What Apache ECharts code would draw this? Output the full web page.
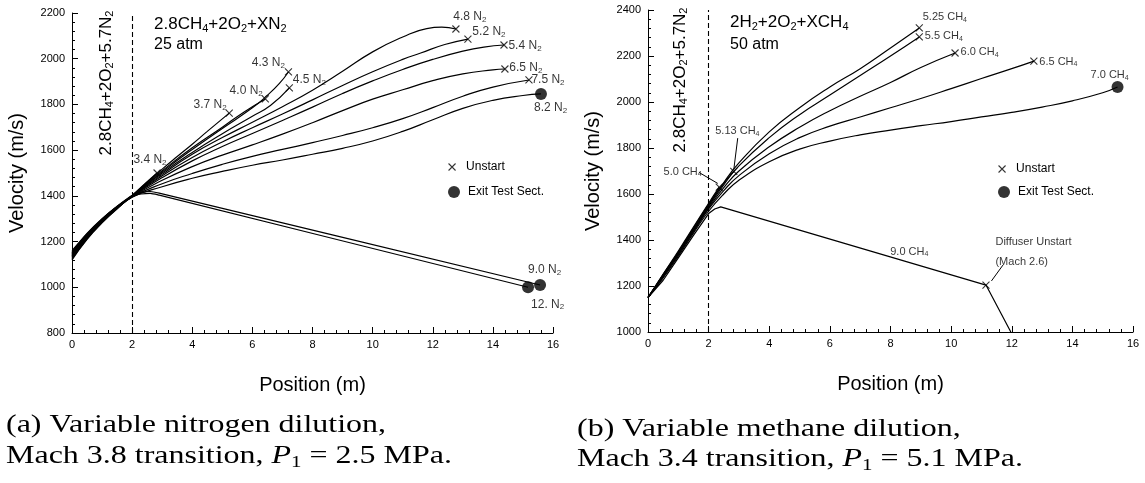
<!DOCTYPE html>
<html><head><meta charset="utf-8">
<script src="https://cdn.jsdelivr.net/npm/echarts/dist/echarts.min.js"></script>
<style>html,body{margin:0;padding:0;background:#fff}#c{width:1145px;height:483px}</style>
</head><body><div id="c"></div>
<script>
// ---------- data: panel (a), N2 dilution (Position m, Velocity m/s) ----------
const n34 = [[0,1150],[0.5,1232],[1,1298],[1.5,1353],[2,1402],[2.4,1450],[2.83,1500]];
const n37 = [[0,1148],[0.5,1230],[1,1296],[1.5,1352],[2,1402],[2.5,1460],[3,1517],[3.5,1572],[4,1626],[4.5,1682],[5.23,1762]];
const n40 = [[0,1146],[0.5,1228],[1,1295],[1.5,1351],[2,1401],[2.5,1456],[3,1510],[4,1610],[5,1700],[5.7,1765],[6.43,1824]];
const n43 = [[0,1143],[0.5,1226],[1,1294],[1.5,1350],[2,1400],[3,1505],[4,1603],[5,1695],[6,1785],[6.5,1840],[6.9,1892],[7.2,1942]];
const n45 = [[0,1140],[0.5,1224],[1,1292],[1.5,1349],[2,1400],[3,1500],[4,1590],[5,1672],[6,1748],[6.6,1795],[7.23,1872]];
const n48 = [[0,1138],[0.5,1222],[1,1291],[1.5,1348],[2,1399],[3,1494],[4,1582],[5,1655],[6,1722],[7,1790],[8,1862],[9,1945],[10,2030],[11,2095],[11.8,2132],[12.3,2138],[12.77,2130]];
const n52 = [[0,1135],[0.5,1220],[1,1290],[1.5,1347],[2,1398],[3,1488],[4,1568],[5,1636],[6,1698],[7,1758],[8,1820],[9,1883],[10,1943],[11,1997],[11.6,2025],[12.4,2062],[13.17,2086]];
const n54 = [[0,1132],[0.5,1218],[1,1288],[1.5,1346],[2,1397],[3,1480],[4,1553],[5,1616],[6,1673],[7,1730],[8,1788],[9,1848],[10,1903],[11,1953],[12,1997],[13,2033],[13.7,2051],[14.37,2060]];
const n65 = [[0,1128],[0.5,1215],[1,1286],[1.5,1345],[2,1396],[3,1468],[4,1528],[5,1578],[6,1623],[7,1670],[8,1720],[9,1773],[10,1823],[11,1864],[12,1904],[13,1934],[14,1951],[14.4,1955]];
const n75 = [[0,1124],[0.5,1212],[1,1284],[1.5,1344],[2,1395],[3,1453],[4,1498],[5,1538],[6,1573],[7,1603],[8,1633],[9,1664],[10,1698],[11,1738],[12,1786],[13,1836],[14,1876],[15.2,1907]];
const n82 = [[0,1120],[0.5,1210],[1,1282],[1.5,1343],[2,1394],[3,1440],[4,1477],[5,1507],[6,1534],[7,1557],[8,1582],[9,1608],[10,1640],[11,1682],[12,1733],[13,1783],[14,1818],[15,1839],[15.6,1846]];
const n90 = [[0,1160],[0.5,1236],[1,1300],[1.5,1355],[2,1402],[2.3,1414],[2.6,1419],[2.9,1412],[15.57,1010]];
const n120 = [[0,1155],[0.5,1233],[1,1297],[1.5,1352],[2,1397],[2.3,1408],[2.6,1411],[2.9,1403],[15.17,1000]];
const leftCurveIds = ['3.4','3.7','4.0','4.3','4.5','4.8','5.2','5.4','6.5','7.5','8.2','9.0','12.'];
const leftCurveData = [n34,n37,n40,n43,n45,n48,n52,n54,n65,n75,n82,n90,n120];
const leftUnstartIds = ['3.4','3.7','4.0','4.3','4.5','4.8','5.2','5.4','6.5','7.5'];
const leftExitIds = ['8.2','9.0','12.'];

// ---------- data: panel (b), CH4 dilution ----------
const c50  = [[0,1150],[0.5,1252],[1,1352],[1.5,1456],[2,1560],[2.35,1630]];
const c513 = [[0,1150],[0.5,1250],[1,1348],[1.5,1452],[2,1555],[2.4,1630],[2.83,1698]];
const c525 = [[0,1150],[0.5,1248],[1,1345],[1.5,1448],[2,1550],[2.5,1650],[3,1735],[4,1870],[5,1975],[6,2065],[7,2145],[8,2235],[8.95,2322]];
const c55  = [[0,1150],[0.5,1246],[1,1342],[1.5,1444],[2,1546],[2.5,1640],[3,1722],[4,1845],[5,1945],[6,2030],[7,2115],[8,2200],[8.95,2283]];
const c60  = [[0,1150],[0.5,1244],[1,1340],[1.5,1440],[2,1540],[2.5,1628],[3,1700],[4,1805],[5,1890],[6,1962],[7,2025],[8,2085],[9,2150],[10.13,2213]];
const c65  = [[0,1150],[0.5,1240],[1,1336],[1.5,1436],[2,1535],[2.5,1615],[3,1680],[4,1775],[5,1845],[6,1895],[7,1935],[8,1975],[9,2015],[10,2058],[11,2102],[12,2145],[12.73,2178]];
const c70  = [[0,1150],[0.5,1235],[1,1330],[1.5,1430],[2,1525],[2.5,1600],[3,1660],[4,1740],[5,1795],[6,1830],[7,1857],[8,1878],[9,1897],[10,1915],[11,1935],[12,1955],[13,1978],[14,2005],[15,2040],[15.49,2065]];
const c90  = [[0,1150],[0.5,1225],[1,1322],[1.5,1420],[2,1515],[2.2,1535],[2.4,1544],[11.15,1204],[11.97,1000]];
const c90Unstart = [11.15,1204];
const rightCurveIds = ['5.0','5.13','5.25','5.5','6.0','6.5','7.0'];
const rightCurveData = [c50,c513,c525,c55,c60,c65,c70];
const rightUnstartIds = ['5.0','5.13','5.25','5.5','6.0','6.5'];
const rightExitIds = ['7.0'];

// ---------- annotation placement (pixel offsets from marker centre) ----------
const leftLabelPlace = {'3.4':[10,-13,'right'],'3.7':[-2,-8,'right'],'4.0':[-2,-8,'right'],'4.3':[-3,-9,'right'],
  '4.5':[4,-8,'left'],'4.8':[-2,-12,'left'],'5.2':[5,-7,'left'],'5.4':[5,1,'left'],'6.5':[5,-1,'left'],
  '7.5':[3,0,'left'],'8.2':[-7,14,'left'],'9.0':[-12,-15,'left'],'12.':[3,17,'left']};
const rightLabelPlace = {'5.0':[-17,-15,'right'],'5.13':[-18,-40,'left'],'5.25':[4,-10,'left'],'5.5':[6,0,'left'],
  '6.0':[6,0,'left'],'6.5':[6,1,'left'],'7.0':[-27,-12,'left']};
const rightArrows = [[[2.96,1843],[2.83,1706]],[[1.68,1694],[2.3,1646]],[[11.71,1291],[11.33,1222]]];
const label90At = [8.62,1350];

const F = 'Liberation Sans, Arial, sans-serif';
const SERIF = 'Liberation Serif, Times New Roman, serif';
const XSYM = 'path://M0,0L10,10M10,0L0,10';
const xStyle = {color:'rgba(0,0,0,0)', borderColor:'#000', borderWidth:1.1};
const richN = {t:{fontSize:12,fontFamily:F,color:'#000',lineHeight:14}, s:{fontSize:8,fontFamily:F,color:'#000',lineHeight:8,verticalAlign:'bottom'}};
const richC = {t:{fontSize:11,fontFamily:F,color:'#000',lineHeight:13}, s:{fontSize:7,fontFamily:F,color:'#000',lineHeight:7,verticalAlign:'bottom'}};

function lastOf(arr){ return arr[arr.length-1]; }
function mkLabel(place, size, text, rich){
  const h = size/2;
  return {show:true, position:[h+place[0], h+place[1]], align:place[2], verticalAlign:'middle', formatter:text, rich:rich};
}
function xAx(gi){
  return {gridIndex:gi, type:'value', min:0, max:16, interval:2,
    axisLine:{show:true, onZero:false, lineStyle:{color:'#000', width:1}},
    axisTick:{show:true, inside:true, length:6, lineStyle:{color:'#000'}},
    minorTick:{show:true, splitNumber:5, length:3, lineStyle:{color:'#000'}},
    splitLine:{show:false},
    axisLabel:{color:'#000', fontSize:11, fontFamily:F, margin:6, formatter:v=>String(v)},
    name:'Position (m)', nameLocation:'middle', nameGap:42,
    nameTextStyle:{color:'#000', fontSize:20, fontFamily:F}};
}
function yAx(gi, mn, mx){
  return {gridIndex:gi, type:'value', min:mn, max:mx, interval:200,
    axisLine:{show:true, onZero:false, lineStyle:{color:'#000', width:1}},
    axisTick:{show:true, inside:true, length:6, lineStyle:{color:'#000'}},
    minorTick:{show:true, splitNumber:5, length:3, lineStyle:{color:'#000'}},
    splitLine:{show:false},
    axisLabel:{color:'#000', fontSize:11, fontFamily:F, margin:7, formatter:v=>String(v)},
    name:'Velocity (m/s)', nameLocation:'middle', nameGap:45,
    nameTextStyle:{color:'#000', fontSize:20, fontFamily:F}};
}
const lineStyle = {color:'#000', width:1.2};
const series = [];
const dashed = {silent:true, symbol:['none','none'], label:{show:false},
  lineStyle:{color:'#000', width:1.1, type:[5,3]}, data:[{xAxis:2}]};

leftCurveIds.forEach((id,i)=>{
  const straight = (id==='9.0'||id==='12.');
  series.push({type:'line', name:'N'+id, xAxisIndex:0, yAxisIndex:0, data:leftCurveData[i],
    smooth: straight?0.25:0.5, showSymbol:false, silent:true, lineStyle:lineStyle,
    markLine: i===0?dashed:undefined});
});
rightCurveIds.forEach((id,i)=>{
  series.push({type:'line', name:'C'+id, xAxisIndex:1, yAxisIndex:1, data:rightCurveData[i],
    smooth:0.5, showSymbol:false, silent:true, lineStyle:lineStyle,
    markLine: i===0?dashed:undefined});
});
series.push({type:'line', name:'C9.0', xAxisIndex:1, yAxisIndex:1, data:c90, smooth:false, showSymbol:false,
  silent:true, lineStyle:lineStyle,
  markLine:{silent:true, symbol:['none','arrow'], symbolSize:[0,7], label:{show:false},
    lineStyle:{color:'#000', width:1, type:'solid'},
    data: rightArrows.map(a=>[{coord:a[0]},{coord:a[1]}])}});

const lUn = leftUnstartIds.map(id=>{ const p=lastOf(leftCurveData[leftCurveIds.indexOf(id)]);
  return {value:p, label:mkLabel(leftLabelPlace[id],7,`{t|${id} N}{s|2}`,richN)}; });
const lEx = leftExitIds.map(id=>{ const p=lastOf(leftCurveData[leftCurveIds.indexOf(id)]);
  return {value:p, label:mkLabel(leftLabelPlace[id],12,`{t|${id} N}{s|2}`,richN)}; });
const rUn = rightUnstartIds.map(id=>{ const p=lastOf(rightCurveData[rightCurveIds.indexOf(id)]);
  return {value:p, label:mkLabel(rightLabelPlace[id],7,`{t|${id} CH}{s|4}`,richC)}; });
rUn.push({value:c90Unstart, label:{show:true, position:[3.5+10,3.5-33], align:'left', verticalAlign:'middle',
  formatter:'{d|Diffuser Unstart}\n{d|(Mach 2.6)}', rich:{d:{fontSize:11,fontFamily:F,color:'#000',lineHeight:20}}}});
const rEx = rightExitIds.map(id=>{ const p=lastOf(rightCurveData[rightCurveIds.indexOf(id)]);
  return {value:p, label:mkLabel(rightLabelPlace[id],12,`{t|${id} CH}{s|4}`,richC)}; });

series.push({type:'scatter', name:'Unstart', xAxisIndex:0, yAxisIndex:0, symbol:XSYM, symbolSize:7, itemStyle:xStyle, data:lUn, silent:true, z:5});
series.push({type:'scatter', name:'Exit Test Sect.', xAxisIndex:0, yAxisIndex:0, symbol:'circle', symbolSize:12, itemStyle:{color:'#000'}, data:lEx, silent:true, z:5});
series.push({type:'scatter', name:'Unstart', xAxisIndex:1, yAxisIndex:1, symbol:XSYM, symbolSize:7, itemStyle:xStyle, data:rUn, silent:true, z:5});
series.push({type:'scatter', name:'Exit Test Sect.', xAxisIndex:1, yAxisIndex:1, symbol:'circle', symbolSize:12, itemStyle:{color:'#000'}, data:rEx, silent:true, z:5});
series.push({type:'scatter', name:'note', xAxisIndex:1, yAxisIndex:1, symbolSize:0, silent:true,
  data:[{value:label90At, label:{show:true, position:'inside', formatter:'{t|9.0 CH}{s|4}', rich:richC}}]});

const legTxt = {color:'#000', fontSize:12, fontFamily:F};
function leg(name, left, top, w, h, icon, st){
  return {data:[{name:name, icon:icon, itemStyle:st}], left:left, top:top, itemWidth:w, itemHeight:h,
    orient:'vertical', selectedMode:false, textStyle:legTxt, padding:0};
}
const rich17 = {a:{fontSize:17,fontFamily:F,color:'#000',lineHeight:19}, s:{fontSize:11,fontFamily:F,color:'#000',lineHeight:10,verticalAlign:'bottom'}};
const richCap = {n:{fontSize:26,fontFamily:SERIF,color:'#000',lineHeight:29}, i:{fontSize:26,fontFamily:SERIF,fontStyle:'italic',color:'#000',lineHeight:29}, s:{fontSize:17,fontFamily:SERIF,color:'#000',lineHeight:14,verticalAlign:'bottom'}};
const CAPX = 1.23;

const option = {
  animation:false, backgroundColor:'#fff',
  grid:[{left:72, top:13, width:481, height:320}, {left:648, top:10, width:485, height:322}],
  xAxis:[xAx(0), xAx(1)],
  yAxis:[yAx(0,800,2200), yAx(1,1000,2400)],
  legend:[
    leg('Unstart',448,161,18,7,XSYM,xStyle),
    leg('Exit Test Sect.',448,186,18,12,'circle',{color:'#000'}),
    leg('Unstart',998,163,18,7,XSYM,xStyle),
    leg('Exit Test Sect.',998,186,18,12,'circle',{color:'#000'})
  ],
  graphic:[
    {type:'text', left:154, top:16, style:{text:'{a|2.8CH}{s|4}{a|+2O}{s|2}{a|+XN}{s|2}', rich:rich17}},
    {type:'text', left:154, top:37, style:{text:'25 atm', font:'16px '+F, fill:'#000'}},
    {type:'text', x:106, y:83, rotation:Math.PI/2, style:{text:'{a|2.8CH}{s|4}{a|+2O}{s|2}{a|+5.7N}{s|2}', rich:rich17, align:'center', verticalAlign:'middle'}},
    {type:'text', left:730, top:14, style:{text:'{a|2H}{s|2}{a|+2O}{s|2}{a|+XCH}{s|4}', rich:rich17}},
    {type:'text', left:730, top:37, style:{text:'50 atm', font:'16px '+F, fill:'#000'}},
    {type:'text', x:680, y:80, rotation:Math.PI/2, style:{text:'{a|2.8CH}{s|4}{a|+2O}{s|2}{a|+5.7N}{s|2}', rich:rich17, align:'center', verticalAlign:'middle'}},
    {type:'text', x:6, y:411, scaleX:CAPX, style:{text:'{n|(a) Variable nitrogen dilution,}', rich:richCap}},
    {type:'text', x:6, y:442, scaleX:CAPX, style:{text:'{n|Mach 3.8 transition, }{i|P}{s|1}{n| = 2.5 MPa.}', rich:richCap}},
    {type:'text', x:577, y:415, scaleX:CAPX, style:{text:'{n|(b) Variable methane dilution,}', rich:richCap}},
    {type:'text', x:577, y:445, scaleX:CAPX, style:{text:'{n|Mach 3.4 transition, }{i|P}{s|1}{n| = 5.1 MPa.}', rich:richCap}}
  ],
  series:series
};
const chart = echarts.init(document.getElementById('c'), null, {renderer:'canvas'});
chart.setOption(option);
</script></body></html>
